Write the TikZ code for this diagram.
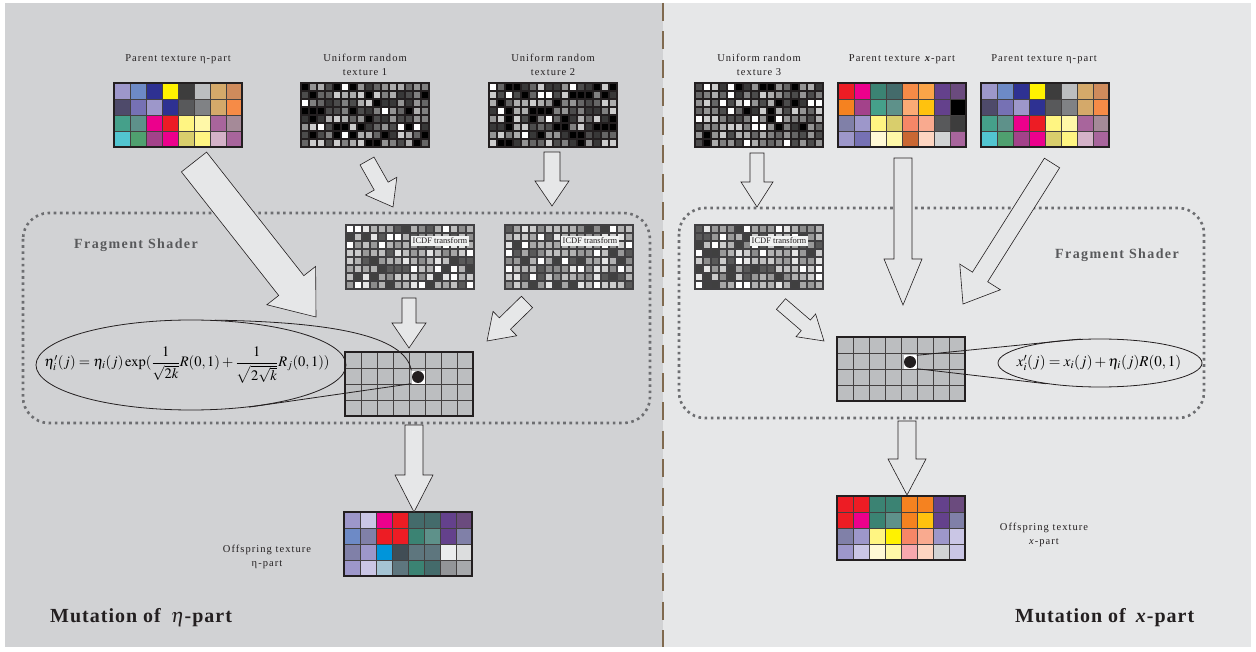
\documentclass[tikz,border=0pt]{standalone}
\usepackage{amsmath}
\usepackage{mathptmx}
\usepackage{fontspec}
\setmainfont{Liberation Serif}
\newfontfamily\capfont[LetterSpace=10]{Liberation Serif}
\newfontfamily\headfont[LetterSpace=5]{Liberation Serif}
\usepackage{xcolor}
\usepackage{tikz}
\usetikzlibrary{positioning,calc,shapes.geometric}

% panel and line colours
\definecolor{ink}{HTML}{231F20}
\definecolor{panelL}{HTML}{D1D2D4}
\definecolor{panelR}{HTML}{E6E7E8}
\definecolor{arrowfill}{HTML}{E6E7E8}
\definecolor{shadegray}{HTML}{6D6E71}
\definecolor{titlegray}{HTML}{58595B}
\definecolor{icdfline}{HTML}{414042}
\definecolor{dividerbrown}{HTML}{806A4F}
\definecolor{labelfill}{HTML}{F1F2F2}
% texture cell colours
\definecolor{lav}{HTML}{9D97CA}
\definecolor{lavL}{HTML}{CAC6E5}
\definecolor{blu}{HTML}{6D8AC6}
\definecolor{dblu}{HTML}{2E3192}
\definecolor{yel}{HTML}{FFF200}
\definecolor{dgry}{HTML}{3D3D3D}
\definecolor{lgry}{HTML}{BCBEC0}
\definecolor{tan}{HTML}{D4A96A}
\definecolor{ortn}{HTML}{CF8B5C}
\definecolor{slt}{HTML}{4E4A6A}
\definecolor{pblu}{HTML}{7671B4}
\definecolor{gry}{HTML}{58595B}
\definecolor{mgry}{HTML}{808285}
\definecolor{org}{HTML}{F68B47}
\definecolor{teal}{HTML}{45A08A}
\definecolor{tgry}{HTML}{5E918A}
\definecolor{mag}{HTML}{EC008C}
\definecolor{red}{HTML}{ED1C24}
\definecolor{lyel}{HTML}{FFF582}
\definecolor{pyel}{HTML}{FFF8A8}
\definecolor{purp}{HTML}{A8659C}
\definecolor{mauv}{HTML}{A58A98}
\definecolor{cyan}{HTML}{52C5D0}
\definecolor{grn}{HTML}{4FA06F}
\definecolor{pmag}{HTML}{A3428A}
\definecolor{khak}{HTML}{D9CE6C}
\definecolor{pink}{HTML}{D4B2C8}
\definecolor{dtel}{HTML}{3B8373}
\definecolor{dtgr}{HTML}{446B6B}
\definecolor{lorg}{HTML}{FBA448}
\definecolor{vio}{HTML}{64418C}
\definecolor{dvio}{HTML}{6B4B7E}
\definecolor{orng}{HTML}{F58220}
\definecolor{sal}{HTML}{FBAA75}
\definecolor{gold}{HTML}{FFC20E}
\definecolor{slat}{HTML}{8080A8}
\definecolor{salm}{HTML}{F68667}
\definecolor{lsal}{HTML}{F9AA8F}
\definecolor{crem}{HTML}{FFF9D6}
\definecolor{rust}{HTML}{C96733}
\definecolor{pech}{HTML}{FDD5C1}
\definecolor{vlgr}{HTML}{D1D3D4}
\definecolor{cbl}{HTML}{0095DA}
\definecolor{dsl}{HTML}{414D55}
\definecolor{gsl}{HTML}{5E767E}
\definecolor{wht}{HTML}{EBECED}
\definecolor{lgrb}{HTML}{DCDDDE}
\definecolor{lbg}{HTML}{A5C4D4}
\definecolor{gnf}{HTML}{939598}
\definecolor{gsv}{HTML}{A7A9AC}
\definecolor{rpk}{HTML}{F7A8AE}
\definecolor{blk}{HTML}{000000}

\tikzset{
  texframe/.style={draw=ink, line width=1.6pt, inner sep=0pt, outer sep=0pt,
    minimum width=128pt, minimum height=64pt, anchor=north west},
  cellline/.style={draw=ink!85, line width=0.9pt},
  texlabel/.style={font=\capfont\fontsize{10.5}{14}\selectfont, text=ink, align=center, inner sep=0pt},
  shadertitle/.style={font=\capfont\bfseries\fontsize{14}{16}\selectfont, text=titlegray, inner sep=0pt},
  mutation/.style={font=\headfont\bfseries\fontsize{20}{24}\selectfont, text=ink, anchor=west, inner sep=0pt},
  shaderbox/.style={draw=shadegray, line width=2.6pt, dash pattern=on 2.6pt off 3.6pt, rounded corners=26pt},
  divider/.style={draw=dividerbrown, line width=2.6pt, dash pattern=on 18pt off 10.5pt},
  blockarrow/.style={draw=ink, line width=0.6pt, fill=arrowfill, line join=miter},
  icdf/.style={fill=labelfill, inner xsep=1.5pt, inner ysep=2pt, font=\fontsize{8.5}{9}\selectfont, text=ink},
  formula/.style={draw=ink, line width=0.8pt, ellipse, inner sep=0pt},
  spotbox/.style={fill=white, minimum size=13pt, inner sep=0pt},
  spot/.style={circle, fill=ink, minimum size=12pt, inner sep=0pt},
  zoomline/.style={draw=ink, line width=0.8pt},
}

% 8x4 cell lines of a colour texture
\newcommand{\texgrid}[2]{%
  \foreach \k in {1,...,7} \draw[cellline] (#1+16*\k,#2) -- ++(0,64);
  \foreach \k in {1,2,3} \draw[cellline] (#1,#2+16*\k) -- ++(128,0);
}
% colour texture: name, left, top, 32 cell colours
\newcommand{\colortex}[4]{%
  \foreach \c [count=\i from 0] in {#4}{
    \pgfmathtruncatemacro{\cx}{mod(\i,8)}
    \pgfmathtruncatemacro{\cy}{div(\i,8)}
    \fill[\c] (#2+16*\cx,#3+16*\cy) rectangle ++(16,16);
  }
  \texgrid{#2}{#3}
  \node[texframe] (#1) at (#2,#3) {};
}
% plain grey texture
\newcommand{\graytex}[3]{%
  \fill[lgry] (#2,#3) rectangle ++(128,64);
  \texgrid{#2}{#3}
  \node[texframe] (#1) at (#2,#3) {};
}
% random texture: name, left, top, line colour, grey levels
\newcommand{\randtex}[5]{%
  \fill[#4] (#2,#3) rectangle ++(128,64);
  \foreach \cx in {0,...,15}{
    \foreach \cy in {0,...,7}{
      \pgfmathrandominteger{\k}{0}{9}
      \pgfmathtruncatemacro{\g}{{#5}[\k]}
      \fill[white!\g!black] (#2+8*\cx+0.8,#3+8*\cy+0.8) rectangle ++(6.4,6.4);
    }
  }
  \node[texframe, draw=#4] (#1) at (#2,#3) {};
}
% block arrow: tail, tip, shaft half width, head half width, head length
\newcommand{\fatarrow}[6][]{%
  \coordinate (fa-base) at ($(#3)!#6!(#2)$);
  \draw[blockarrow,#1] ($(#2)!#4!90:(#3)$) -- ($(fa-base)!#4!90:(#3)$)
    -- ($(fa-base)!#5!90:(#3)$) -- (#3) -- ($(fa-base)!#5!-90:(#3)$)
    -- ($(fa-base)!#4!-90:(#3)$) -- ($(#2)!#4!-90:(#3)$) -- cycle;
}

\begin{document}
\begin{tikzpicture}[x=1pt,y=-1pt]
  \useasboundingbox (0,0) rectangle (1256,652);
  \pgfmathsetseed{11}

  % two panels
  \fill[white] (0,0) rectangle (1256,652);
  \fill[panelL] (5,3) rectangle (663,647);
  \fill[panelR] (663,3) rectangle (1251,647);
  \draw[divider] (663,3) -- (663,647);

  % shader frames
  \draw[shaderbox] (23,213) rectangle (650,423);
  \draw[shaderbox] (679,208) rectangle (1204,418);
  \node[shadertitle] (fragL) at (136,245) {Fragment Shader};
  \node[shadertitle] (fragR) at (1117,255) {Fragment Shader};

  % ---- eta part ----
  \colortex{parEtaL}{114}{83}{lav,blu,dblu,yel,dgry,lgry,tan,ortn,
    slt,pblu,lav,dblu,gry,mgry,tan,org,
    teal,tgry,mag,red,lyel,pyel,purp,mauv,
    cyan,grn,pmag,mag,khak,lyel,pink,purp}
  \randtex{rnd1}{301}{83}{ink}{0,0,22,30,40,50,58,68,80,100}
  \randtex{rnd2}{489}{83}{ink}{0,0,22,30,40,50,58,68,80,100}
  \node[texlabel] (capParEtaL) at (178,59) {Parent texture η-part};
  \node[texlabel] (capRnd1) at (365,65) {Uniform random\\texture 1};
  \node[texlabel] (capRnd2) at (553,65) {Uniform random\\texture 2};

  \randtex{icdf1}{346}{225}{icdfline}{25,35,55,60,65,70,75,80,90,100}
  \randtex{icdf2}{505}{225}{icdfline}{25,35,55,60,65,70,75,80,90,100}
  \node[icdf] (icdf1-lbl) at (440,241) {ICDF transform};
  \node[icdf] (icdf2-lbl) at (590,241) {ICDF transform};

  \graytex{midL}{345}{352}
  \node[spotbox] (boxL) at (418,377) {};
  \node[spot] (dotL) at (boxL) {};
  \node[formula, minimum width=310pt, minimum height=90pt] (ellL) at (191,365) {};
  \node[inner sep=0pt, font=\fontsize{14.5}{18}\selectfont] (fmlL) at (187,365)
    {$\eta^{\prime}_{i}(j)=\eta_{i}(j)\exp(\dfrac{1}{\sqrt{2k}}R(0,1)+\dfrac{1}{\sqrt{2\sqrt{k}}}R_{j}(0,1))$};
  \draw[zoomline] (ellL.62) .. controls (330,322) and (405,335) .. (boxL.north west);
  \draw[zoomline] (ellL.-36) -- (boxL.south west);

  \colortex{offEta}{344}{512}{lav,lavL,mag,red,dtgr,dtgr,vio,dvio,
    blu,slat,red,red,dtel,tgry,vio,slat,
    slat,lav,cbl,dsl,gsl,gsl,wht,lgrb,
    lav,lavL,lbg,gsl,dtel,dtgr,gnf,gsv}
  \node[texlabel] (capOffEta) at (267,557) {Offspring texture\\η-part};

  \coordinate (a1s) at (194,162);  \coordinate (a1e) at (316,317);
  \coordinate (a2s) at (367,161);  \coordinate (a2e) at (393,207);
  \coordinate (a3s) at (552,152);  \coordinate (a3e) at (552,206);
  \coordinate (a4s) at (409,298);  \coordinate (a4e) at (409,348);
  \coordinate (a5s) at (527,302);  \coordinate (a5e) at (487,341);
  \coordinate (a6s) at (414,425);  \coordinate (a6e) at (414,512);
  \fatarrow{a1s}{a1e}{16pt}{31pt}{40pt}
  \fatarrow{a2s}{a2e}{8pt}{18pt}{24pt}
  \fatarrow{a3s}{a3e}{8pt}{17pt}{25pt}
  \fatarrow{a4s}{a4e}{7pt}{17pt}{25pt}
  \fatarrow{a5s}{a5e}{8pt}{17pt}{25pt}
  \fatarrow{a6s}{a6e}{9pt}{19pt}{37pt}

  \node[mutation] (mutEta) at (50,618) {Mutation of\enspace$\eta$-part};

  % ---- x part ----
  \randtex{rnd3}{695}{83}{ink}{0,0,22,30,40,50,58,68,80,100}
  \colortex{parX}{838}{83}{red,mag,dtel,dtgr,org,lorg,vio,dvio,
    orng,pmag,teal,tgry,sal,gold,vio,blk,
    slat,lav,lyel,khak,salm,lsal,gry,dgry,
    lav,pblu,crem,pyel,rust,pech,vlgr,purp}
  \colortex{parEtaR}{981}{83}{lav,blu,dblu,yel,dgry,lgry,tan,ortn,
    slt,pblu,lav,dblu,gry,mgry,tan,org,
    teal,tgry,mag,red,lyel,pyel,purp,mauv,
    cyan,grn,pmag,mag,khak,lyel,pink,purp}
  \node[texlabel] (capRnd3) at (759,65) {Uniform random\\texture 3};
  \node[texlabel] (capParX) at (902,59) {Parent texture \textbf{\textit{x}}-part};
  \node[texlabel] (capParEtaR) at (1044,59) {Parent texture η-part};

  \randtex{icdf3}{695}{225}{icdfline}{25,35,55,60,65,70,75,80,90,100}
  \node[icdf] (icdf3-lbl) at (779,241) {ICDF transform};

  \graytex{midR}{837}{337}
  \node[spotbox] (boxR) at (910,362) {};
  \node[spot] (dotR) at (boxR) {};
  \node[formula, minimum width=204pt, minimum height=48pt] (ellR) at (1100,363) {};
  \node[inner sep=0pt, font=\fontsize{15}{18}\selectfont] (fmlR) at (1099,363)
    {$x^{\prime}_{i}(j)=x_{i}(j)+\eta_{i}(j)R(0,1)$};
  \draw[zoomline] (boxR.north east) -- (ellR.129);
  \draw[zoomline] (boxR.south east) -- (ellR.-159);

  \colortex{offX}{837}{496}{red,red,dtel,dtel,orng,orng,vio,dvio,
    red,mag,dtel,tgry,orng,gold,vio,slat,
    slat,lav,lyel,yel,salm,lsal,lav,lavL,
    lav,lavL,crem,pyel,rpk,pech,vlgr,lavL}
  \node[texlabel] (capOffX) at (1044,535) {Offspring texture\\\textit{x}-part};

  \coordinate (b1s) at (757,153);  \coordinate (b1e) at (757,207);
  \coordinate (b2s) at (903,158);  \coordinate (b2e) at (903,305);
  \coordinate (b3s) at (1052,163); \coordinate (b3e) at (963,304);
  \coordinate (b4s) at (781,304);  \coordinate (b4e) at (824,341);
  \coordinate (b5s) at (907,421);  \coordinate (b5e) at (907,495);
  \fatarrow{b1s}{b1e}{7pt}{16pt}{25pt}
  \fatarrow{b2s}{b2e}{9pt}{19pt}{46pt}
  \fatarrow{b3s}{b3e}{9pt}{24pt}{32pt}
  \fatarrow{b4s}{b4e}{7pt}{15pt}{24pt}
  \fatarrow{b5s}{b5e}{9pt}{19pt}{36pt}

  \node[mutation] (mutX) at (1015,618) {Mutation of\enspace\textit{x}-part};
\end{tikzpicture}
\end{document}
